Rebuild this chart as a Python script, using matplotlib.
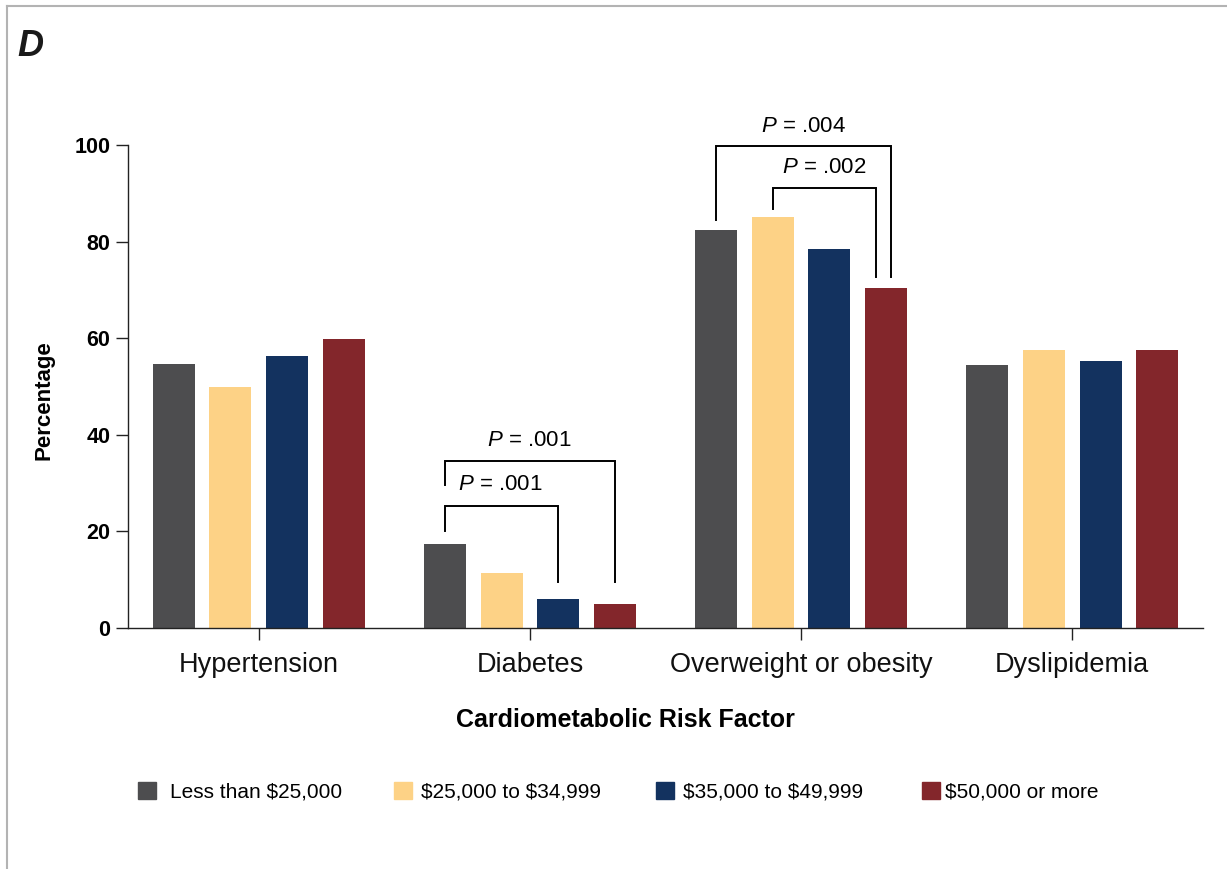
import matplotlib
matplotlib.use("Agg")
import matplotlib.pyplot as plt
from matplotlib.patches import Rectangle
from matplotlib.lines import Line2D
import numpy as np

plt.rcParams['font.family'] = ['Liberation Sans', 'DejaVu Sans']
plt.rcParams['mathtext.fontset'] = 'custom'
plt.rcParams['mathtext.it'] = 'Liberation Sans:italic'
plt.rcParams['mathtext.rm'] = 'Liberation Sans'

# data
categories = ["Hypertension", "Diabetes", "Overweight or obesity", "Dyslipidemia"]
income_groups = ["Less than $25,000", "$25,000 to $34,999",
                 "$35,000 to $49,999", "$50,000 or more"]
less_25k = [54.7, 17.4, 82.4, 54.5]
from_25k = [50.0, 11.4, 85.1, 57.6]
from_35k = [56.4, 6.1, 78.5, 55.3]
over_50k = [59.8, 5.0, 70.4, 57.6]
series = [less_25k, from_25k, from_35k, over_50k]
colors = ["#4d4d4f", "#fdd286", "#13325f", "#83262b"]

# significance brackets: (category, bar a, bar b, top, left end, right end, label)
brackets = [
    (1, 0, 3, 34.5, 29.6, 9.6, "$P$ = .001"),
    (1, 0, 2, 25.3, 20.1, 9.6, "$P$ = .001"),
    (2, 0, 3, 99.7, 84.5, 72.7, "$P$ = .004"),
    (2, 1, 3, 91.2, 86.7, 72.7, "$P$ = .002"),
]
bracket_label_y = [37.7, 28.6, 102.7, 94.2]
bracket_label_x = [0.998, 0.891, 2.009, 2.087]
bracket_right_shift = [0.0, 0.0, 0.016, -0.038]

fig = plt.figure(figsize=(12.27, 8.69), dpi=100)
ax = fig.add_axes([128 / 1227, 1 - 628 / 869, 1075 / 1227, 483 / 869])

x = np.arange(len(categories))
offsets = [-0.315, -0.105, 0.105, 0.315]
width = 0.155
for vals, off, col in zip(series, offsets, colors):
    ax.bar(x + off, vals, width, color=col, zorder=2)

lw = 1.4
for (cat, a, b, top, lend, rend, lab), ly, lx, dx in zip(
        brackets, bracket_label_y, bracket_label_x, bracket_right_shift):
    xa = cat + offsets[a]
    xb = cat + offsets[b] + dx
    ax.plot([xa, xa, xb, xb], [lend, top, top, rend], color="black",
            lw=lw, clip_on=False, solid_joinstyle="miter", zorder=3)
    ax.text(lx, ly, lab, ha="center", va="baseline", fontsize=16,
            clip_on=False)

ax.set_xlim(-0.483, 3.483)
ax.set_ylim(0, 100)
ax.set_yticks([0, 20, 40, 60, 80, 100])
ax.set_xticks(x)
ax.set_xticklabels(categories, fontsize=19.5, color="#111111")
for t in ax.get_yticklabels():
    t.set_fontweight("bold")
    t.set_fontsize(15.5)
ax.tick_params(axis="y", length=8.6, width=1, pad=4.0, color="#222222")
ax.tick_params(axis="x", length=8.6, width=1, pad=8.5, color="#222222")
for s in ["top", "right"]:
    ax.spines[s].set_visible(False)
for s in ["left", "bottom"]:
    ax.spines[s].set_linewidth(1.0)
    ax.spines[s].set_color("#222222")

ax.set_ylabel("Percentage", fontsize=16, fontweight="bold")
ax.yaxis.set_label_coords(-0.068, 0.472)

fig.text(625 / 1227, 1 - 727 / 869, "Cardiometabolic Risk Factor",
         ha="center", va="baseline", fontsize=18, fontweight="bold")

fig.text(17 / 1227, 1 - 56 / 869, "D", ha="left", va="baseline",
         fontsize=26, fontweight="bold", style="italic", color="#1a1a1a")

# legend drawn by hand to keep the uneven spacing
sq_x = [138, 394, 656, 922]
txt_x = [170, 421, 683, 945]
for sx, tx, col, lab in zip(sq_x, txt_x, colors, income_groups):
    fig.patches.append(Rectangle((sx / 1227, 1 - 799 / 869), 18 / 1227,
                                 17 / 869, transform=fig.transFigure,
                                 color=col))
    fig.text(tx / 1227, 1 - 797 / 869, lab, ha="left", va="baseline",
             fontsize=15, parse_math=False)

# panel frame
fig.lines.append(Line2D([7 / 1227, 1], [1 - 6 / 869, 1 - 6 / 869],
                        transform=fig.transFigure, color="#b3b3b3", lw=1.5))
fig.lines.append(Line2D([7 / 1227, 7 / 1227], [0, 1 - 6 / 869],
                        transform=fig.transFigure, color="#b3b3b3", lw=1.5))

fig.savefig("out.png", dpi=100)
